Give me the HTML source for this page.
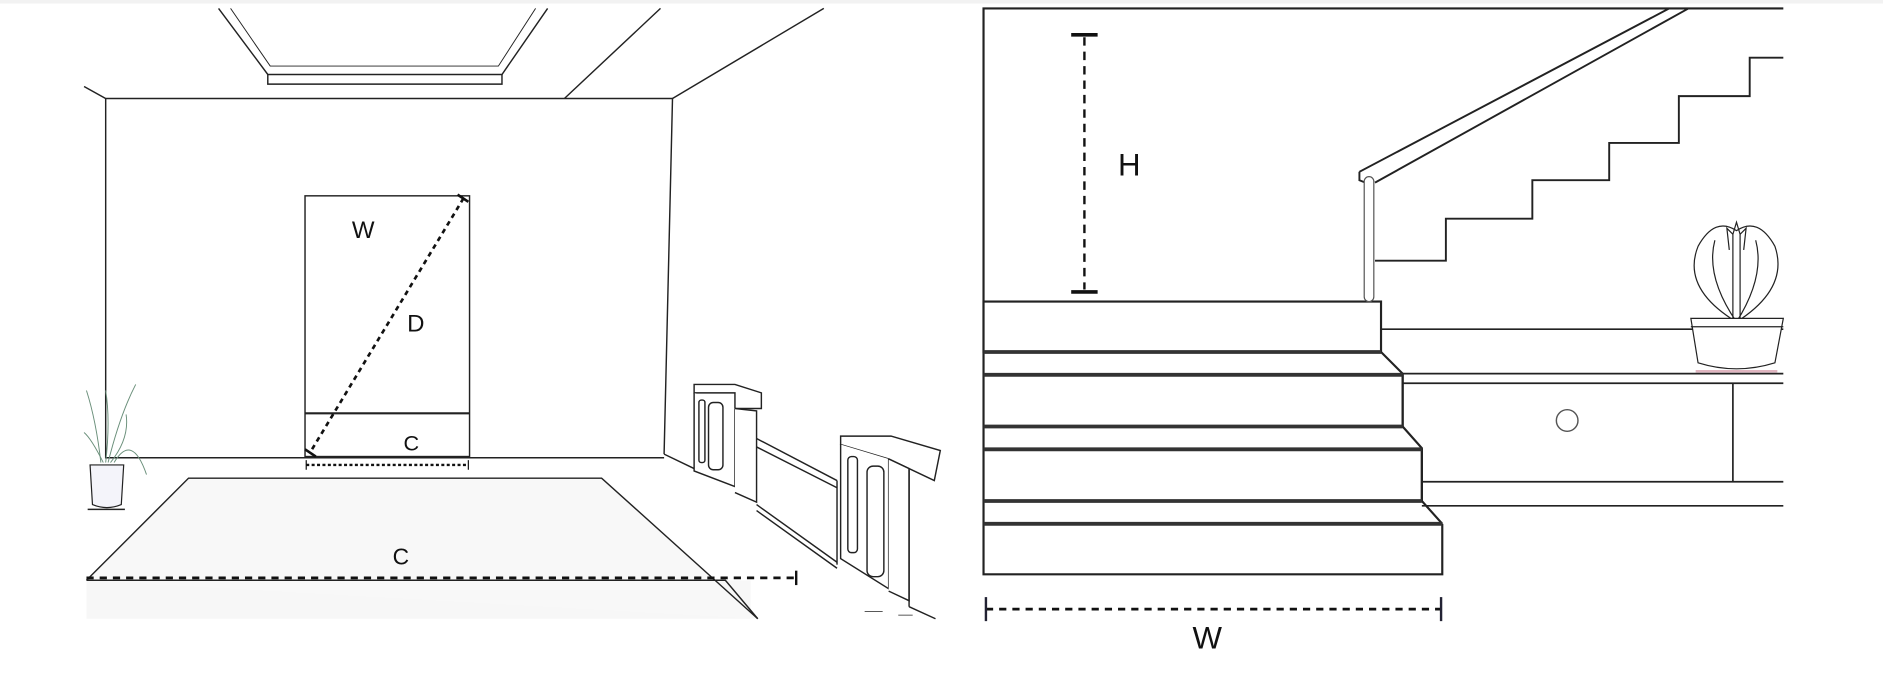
<!DOCTYPE html>
<html><head><meta charset="utf-8"><style>
html,body{margin:0;padding:0;background:#fff;}
svg{display:block;}
text{font-family:"Liberation Sans",sans-serif;fill:#111;}
</style></head><body>
<svg width="1883" height="680" viewBox="0 0 1568 566" preserveAspectRatio="none" xmlns="http://www.w3.org/2000/svg">
<rect width="1568" height="566" fill="#fff"/>
<rect x="0" y="0" width="1568" height="3" fill="#f2f2f2"/>
<rect x="72" y="483" width="553" height="32" fill="#f7f7f7"/>
<!-- LEFT PANEL -->
<g fill="none" stroke="#222" stroke-width="1.2">
  <path d="M182 7 L223 62 L418 62 L456 7" />
  <path d="M192 7 L225 55 L415 55 L446 7" stroke-width="0.8"/>
  <path d="M223 62 L223 70 L418 70 L418 62" />
  <path d="M470 82 L550 7"/>
  <path d="M560 82 L686 7"/>
  <path d="M70 72 L88 82 L560 82 L553 378"/>
  <path d="M88 82 L88 381 L553 381"/>
  <rect x="254" y="163" width="137" height="217"/>
  <line x1="254" y1="344" x2="391" y2="344" stroke-width="1.8"/>
  <path d="M72 483 L157 398 L501 398 L631 515" fill="#f8f8f8"/>
  <path d="M553 378 L578 390"/>
  <path d="M630 365 L697 400"/>
  <path d="M630 372 L697 406"/>
  <path d="M630 420 L697 468" />
  <path d="M630 425 L697 473" />
  <line x1="697" y1="400" x2="697" y2="470"/>
  <path d="M578 327 L578 320 L612 320 L634 327 L634 340 L612 340 L612 327 Z" fill="#fff"/>
  <path d="M578 327 L578 392 L612 405 L612 340" fill="#fff"/>
  <path d="M612 340 L630 342 L630 418 L612 410" fill="#fff"/>
  <rect x="582" y="333" width="5" height="52" rx="2"/>
  <rect x="590" y="335" width="12" height="56" rx="4"/>
  <path d="M700 368 L700 363 L742 363 L783 375 L778 400 L740 382 L700 370 Z" fill="#fff"/>
  <path d="M700 370 L700 465 L740 490 L740 382" fill="#fff"/>
  <path d="M740 382 L757 390 L757 500 L740 492" fill="#fff"/>
  <rect x="706" y="380" width="8" height="80" rx="3"/>
  <rect x="722" y="388" width="14" height="92" rx="5"/>
  <path d="M757 390 L757 505 M757 505 L779 515" />
  <path d="M720 509 L735 509 M748 512 L760 512" stroke-width="0.6"/>
</g>
<path d="M72 483 L604 483 L631 515" fill="none" stroke="#222" stroke-width="1.2"/>
<g fill="none" stroke="#6a8f7a" stroke-width="0.8">
  <path d="M84 385 Q80 350 72 325"/><path d="M88 385 Q92 350 88 325"/>
  <path d="M90 385 Q100 345 113 320"/><path d="M95 385 Q110 360 122 395"/>
  <path d="M86 385 Q76 365 70 360"/><path d="M92 385 Q108 365 105 345"/>
</g>
<path d="M75 387 L103 387 L101 420 Q89 425 77 420 Z" fill="#f4f4fa" stroke="#222" stroke-width="1"/>
<line x1="73" y1="424" x2="104" y2="424" stroke="#222" stroke-width="1.2"/>
<g stroke="#111" fill="none">
  <line x1="386" y1="165" x2="258" y2="377" stroke-width="2.2" stroke-dasharray="4,3.5"/>
  <line x1="381" y1="162" x2="390" y2="168" stroke-width="2.2"/>
  <line x1="254" y1="374" x2="263" y2="380" stroke-width="2.2"/>
  <line x1="255" y1="387" x2="390" y2="387" stroke-width="2" stroke-dasharray="2.5,2"/>
  <line x1="255" y1="383" x2="255" y2="391" stroke-width="1"/>
  <line x1="390" y1="383" x2="390" y2="391" stroke-width="1"/>
  <line x1="72" y1="481" x2="663" y2="481" stroke-width="2.2" stroke-dasharray="6,5"/>
  <line x1="663" y1="475" x2="663" y2="487" stroke-width="2"/>
</g>
<text x="293" y="198" font-size="20">W</text>
<text x="339" y="276" font-size="20">D</text>
<text x="336" y="375" font-size="18">C</text>
<text x="327" y="470" font-size="19">C</text>
<!-- RIGHT PANEL -->
<g fill="none" stroke="#222" stroke-width="1.8">
  <path d="M1485 7 L819 7 L819 478 L1201 478 L1201 436"/>
  <rect x="819" y="251" width="331" height="42" fill="#fff"/>
  <path d="M1150 293 L1168 311 L1168 355 M1168 374 L1184 374 M1168 355 L1184 373 L1184 417 L1201 436"/>
  <path d="M1168 312 L1168 355 M1184 374 L1184 417"/>
  <line x1="1150" y1="274" x2="1485" y2="274" stroke-width="1.4"/>
  <line x1="1168" y1="311" x2="1485" y2="311" stroke-width="1.4"/>
  <line x1="1168" y1="319" x2="1485" y2="319" stroke-width="1.4"/>
  <line x1="1443" y1="319" x2="1443" y2="401" stroke-width="1.4"/>
  <line x1="1184" y1="401" x2="1485" y2="401" stroke-width="1.4"/>
  <line x1="1184" y1="421" x2="1485" y2="421" stroke-width="1.4"/>
  <path d="M1145 217 L1204 217 L1204 182 L1276 182 L1276 150 L1340 150 L1340 119 L1398 119 L1398 80 L1457 80 L1457 48 L1485 48" stroke-width="1.6"/>
  <path d="M1132 143 L1390 7 M1145 152 L1406 7 M1132 143 L1132 150 L1137 152" stroke-width="1.6"/>
</g>
<g stroke="#333" stroke-width="3.2">
  <line x1="819" y1="293" x2="1150" y2="293"/>
  <line x1="819" y1="312" x2="1168" y2="312"/>
  <line x1="819" y1="355" x2="1168" y2="355"/>
  <line x1="819" y1="374" x2="1184" y2="374"/>
  <line x1="819" y1="417" x2="1184" y2="417"/>
  <line x1="819" y1="436" x2="1201" y2="436"/>
</g>
<rect x="1136" y="147" width="8" height="104" rx="4" fill="#fff" stroke="#555" stroke-width="1"/>
<circle cx="1305" cy="350" r="9" fill="none" stroke="#555" stroke-width="1.2"/>
<g fill="none" stroke="#222" stroke-width="1">
  <path d="M1446 268 Q1400 240 1414 205 Q1428 180 1446 192 Q1464 180 1478 205 Q1490 240 1446 268"/>
  <path d="M1446 268 Q1420 230 1428 200 M1446 268 Q1470 230 1462 200 M1443 268 L1443 195 M1449 268 L1449 195"/>
  <path d="M1440 208 L1438 190 L1443 195 L1446 185 L1449 195 L1454 190 L1452 208"/>
  <path d="M1408 265 L1485 265 L1478 302 Q1446 312 1414 302 Z" fill="#fff"/>
  <line x1="1408" y1="272" x2="1485" y2="272"/>
</g>
<line x1="1412" y1="309" x2="1480" y2="309" stroke="#e0b5c0" stroke-width="2"/>
<g stroke="#111" fill="none">
  <line x1="903" y1="31" x2="903" y2="241" stroke-width="2" stroke-dasharray="7,5"/>
  <line x1="892" y1="29" x2="914" y2="29" stroke-width="3"/>
  <line x1="892" y1="243" x2="914" y2="243" stroke-width="3"/>
  <line x1="821" y1="507" x2="1200" y2="507" stroke-width="2.2" stroke-dasharray="6,5"/>
  <line x1="821" y1="497" x2="821" y2="517" stroke="#223" stroke-width="2"/>
  <line x1="1200" y1="497" x2="1200" y2="517" stroke="#223" stroke-width="2"/>
</g>
<text x="931" y="146" font-size="26">H</text>
<text x="993" y="540" font-size="26">W</text>
</svg>
</body></html>
